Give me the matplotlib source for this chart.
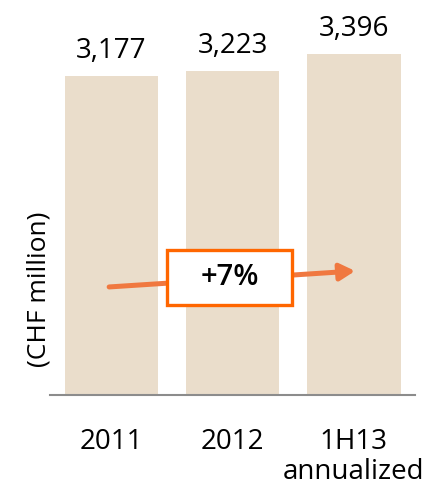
import matplotlib.pyplot as plt
from matplotlib.patches import Rectangle

# chart data
categories = ["2011", "2012", "1H13\nannualized"]
values = [3177, 3223, 3396]
value_labels = ["3,177", "3,223", "3,396"]
growth_label = "+7%"

plt.rcParams["font.family"] = ["Open Sans", "DejaVu Sans"]

fig = plt.figure(figsize=(4.28, 4.87), dpi=100)
ax = fig.add_axes([50 / 428, 92 / 487, 365 / 428, 395 / 487])

x = range(len(categories))
ax.bar(x, values, width=0.77, color="#EADDCB", zorder=1)

# value labels above bars
for xi, v, lab in zip(x, values, value_labels):
    ax.annotate(lab, (xi, v), xytext=(0, 13), textcoords="offset points",
                ha="center", va="baseline", fontsize=20, color="black")

ax.set_xlim(-0.508, 2.504)
ax.set_ylim(0, 3930)

# only the bottom axis line
for side in ["top", "left", "right"]:
    ax.spines[side].set_visible(False)
ax.spines["bottom"].set_color("#8C8C8C")
ax.spines["bottom"].set_linewidth(1.5)
ax.set_yticks([])
ax.set_xticks(list(x))
ax.set_xticklabels(categories, fontsize=20, linespacing=1.08)
ax.tick_params(axis="x", length=0, pad=24)

ax.set_ylabel("(CHF million)", fontsize=19)
ax.yaxis.set_label_coords(0.005, 0.268)

# growth arrow with boxed label
ax.annotate("", xy=(2.01, 1234), xytext=(-0.02, 1075),
            arrowprops=dict(arrowstyle="-|>,head_width=0.5,head_length=0.9",
                            color="#F07840", lw=3.6, shrinkA=0, shrinkB=0),
            zorder=2)
ax.add_patch(Rectangle((0.459, 896), 1.033, 547, facecolor="white",
                       edgecolor="#FF6600", linewidth=2.4, zorder=3))
ax.text(0.975, 1170, growth_label, ha="center", va="center", fontsize=21,
        fontweight="semibold", zorder=4)

fig.savefig("out.png", dpi=100)
